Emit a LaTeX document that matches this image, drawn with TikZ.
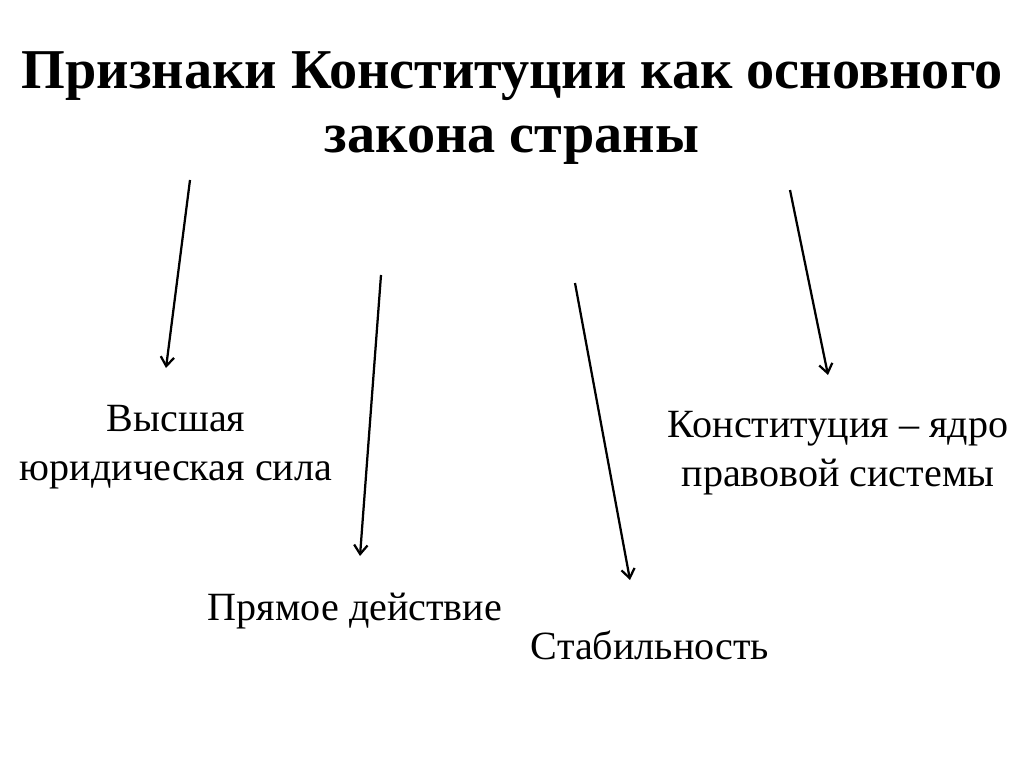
\documentclass[tikz,border=0pt]{standalone}
\usepackage{fontspec}
\setmainfont{Liberation Serif}
\usetikzlibrary{arrows.meta}
\usetikzlibrary{positioning}

\begin{document}
\begin{tikzpicture}[%
  >={Straight Barb[length=6.5pt,width=9.5pt]},
  x=0.025cm, y=-0.025cm,
  title/.style={font=\fontsize{40}{45}\selectfont\bfseries, align=center},
  sign/.style={font=\fontsize{28.5}{35}\selectfont, align=center},
  link/.style={->, line width=1.6pt},
]

  \useasboundingbox[fill=white] (0,0) rectangle (1024,767);

  \node[title] (head) at (512,108) {Признаки Конституции как основного\\закона страны};

  \coordinate (s1) at (190,180);
  \coordinate (s2) at (381,275);
  \coordinate (s3) at (575,283);
  \coordinate (s4) at (790,190);

  \coordinate (e1) at (166,368);
  \coordinate (e2) at (360,556);
  \coordinate (e3) at (630,580);
  \coordinate (e4) at (828,375);

  \node[sign] (power)  at (176,447) {Высшая\\юридическая сила};
  \node[sign] (direct) at (355,611) {Прямое действие};
  \node[sign] (stable) at (650,645) {Стабильность};
  \node[sign] (core)   at (838,453) {Конституция -- ядро\\правовой системы};

  \draw[link] (s1) -- (e1);
  \draw[link] (s2) -- (e2);
  \draw[link] (s3) -- (e3);
  \draw[link] (s4) -- (e4);

\end{tikzpicture}
\end{document}
